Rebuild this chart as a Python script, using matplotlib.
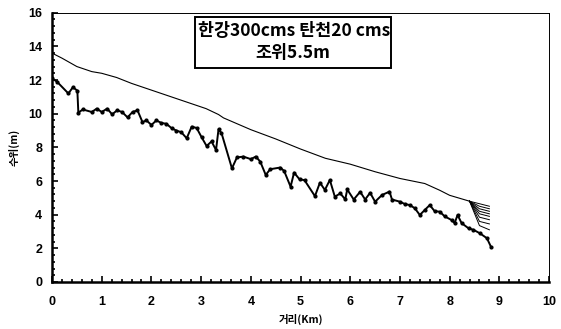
import matplotlib.pyplot as plt
from matplotlib.patches import Rectangle
from matplotlib.ticker import MultipleLocator

plt.rcParams['font.family'] = ['Noto Sans CJK KR', 'DejaVu Sans']

# lower water-level profile (with markers)
low_x = [0.0, 0.1, 0.33, 0.42, 0.51, 0.53, 0.62, 0.8, 0.9, 1.0, 1.11, 1.21, 1.31, 1.41,
         1.52, 1.62, 1.72, 1.82, 1.9, 2.0, 2.1, 2.2, 2.3, 2.41, 2.5, 2.6, 2.71, 2.81,
         2.91, 3.01, 3.11, 3.21, 3.3, 3.35, 3.41, 3.62, 3.72, 3.85, 4.0, 4.1, 4.19,
         4.3, 4.39, 4.59, 4.67, 4.8, 4.87, 4.98, 5.08, 5.29, 5.39, 5.49, 5.59, 5.69,
         5.8, 5.9, 5.94, 6.07, 6.2, 6.3, 6.4, 6.5, 6.64, 6.79, 6.84, 7.0, 7.1, 7.2,
         7.3, 7.4, 7.5, 7.6, 7.7, 7.8, 7.9, 8.04, 8.1, 8.16, 8.24, 8.38, 8.48, 8.61,
         8.75, 8.83]
low_y = [12.1, 11.9, 11.2, 11.57, 11.37, 10.06, 10.25, 10.1, 10.3, 10.1, 10.3, 9.96, 10.2,
         10.1, 9.78, 10.1, 10.2, 9.5, 9.6, 9.33, 9.6, 9.45, 9.4, 9.13, 9.0, 8.9, 8.54,
         9.23, 9.15, 8.6, 8.08, 8.35, 7.84, 9.07, 8.85, 6.75, 7.4, 7.45, 7.3, 7.45,
         7.15, 6.36, 6.7, 6.8, 6.6, 5.66, 6.5, 6.1, 6.05, 5.1, 5.9, 5.47, 6.06, 5.07,
         5.26, 4.91, 5.5, 4.9, 5.36, 4.9, 5.3, 4.77, 5.17, 5.37, 4.9, 4.77, 4.63, 4.57,
         4.38, 3.98, 4.28, 4.57, 4.2, 4.18, 3.9, 3.68, 3.5, 3.98, 3.5, 3.19, 3.1, 2.89,
         2.6, 2.1]

# upper water-level profile (thin)
up_x = [0.0, 0.2, 0.5, 0.8, 1.0, 1.3, 1.6, 2.0, 2.4, 2.8, 3.1, 3.35, 3.45, 4.0, 4.5,
        5.0, 5.5, 6.0, 6.5, 7.0, 7.5, 7.8, 8.0, 8.4]
up_y = [13.6, 13.3, 12.8, 12.5, 12.4, 12.15, 11.8, 11.4, 11.0, 10.6, 10.3, 9.95, 9.75,
        9.05, 8.5, 7.9, 7.35, 7.0, 6.55, 6.15, 5.85, 5.45, 5.15, 4.8]
# fan of profiles near the downstream end
fan_x = [8.4, 8.6, 8.8]
fan_mid = [4.65, 4.5, 4.35, 4.2, 4.05, 3.85, 3.6, 3.35]
fan_end = [4.5, 4.35, 4.2, 4.05, 3.9, 3.7, 3.45, 3.1]

fig = plt.figure(figsize=(5.61, 3.29), dpi=100, facecolor="w")
ax = fig.add_axes([0.0927, 0.1429, 0.886, 0.8185])

ax.plot(up_x, up_y, color="black", lw=0.8)
for m, e in zip(fan_mid, fan_end):
    ax.plot(fan_x, [up_y[-1], m, e], color="black", lw=0.7)
ax.plot(low_x, low_y, color="black", lw=1.4, marker="o", markersize=2)

ax.set_xlim(0, 10)
ax.set_ylim(0, 16)
ax.xaxis.set_major_locator(MultipleLocator(1))
ax.xaxis.set_minor_locator(MultipleLocator(0.2))
ax.yaxis.set_major_locator(MultipleLocator(2))
ax.yaxis.set_minor_locator(MultipleLocator(0.4))
ax.tick_params(which="both", direction="in", width=1.2, top=False, right=False)
ax.tick_params(which="major", length=4, labelsize=9)
ax.tick_params(which="minor", length=2.5)
ax.tick_params(axis="x", which="major", pad=10)
ax.tick_params(axis="y", which="major", pad=7)
for lab in ax.get_xticklabels() + ax.get_yticklabels():
    lab.set_fontweight("bold")
    lab.set_family("Liberation Sans")

ax.spines["left"].set_linewidth(1.8)
ax.spines["bottom"].set_linewidth(1.8)
for s in ("top", "right"):
    ax.spines[s].set_linewidth(0.7)
    ax.spines[s].set_linestyle((0, (2, 1)))

ax.set_xlabel("거리(Km)", fontsize=7.5, fontweight="bold", labelpad=4)
ax.set_ylabel("수위(m)", fontsize=7.5, fontweight="bold", labelpad=6)

# text box
box = (0.288, 0.795)
box_w, box_h = 0.394, 0.189
ax.add_patch(Rectangle(box, box_w, box_h, transform=ax.transAxes,
                       facecolor="white", edgecolor="black", lw=1.4, zorder=5))
t = ax.text(0.294, 0.933, "한강300cms 탄천20 cms", transform=ax.transAxes, ha="left",
            va="center", fontsize=12.5, fontweight="bold", zorder=6)
t.set_clip_path(Rectangle(box, box_w, box_h, transform=ax.transAxes))
ax.text(0.485, 0.851, "조위5.5m", transform=ax.transAxes, ha="center", va="center",
        fontsize=12.5, fontweight="bold", zorder=6)

fig.savefig("out.png", dpi=100)
